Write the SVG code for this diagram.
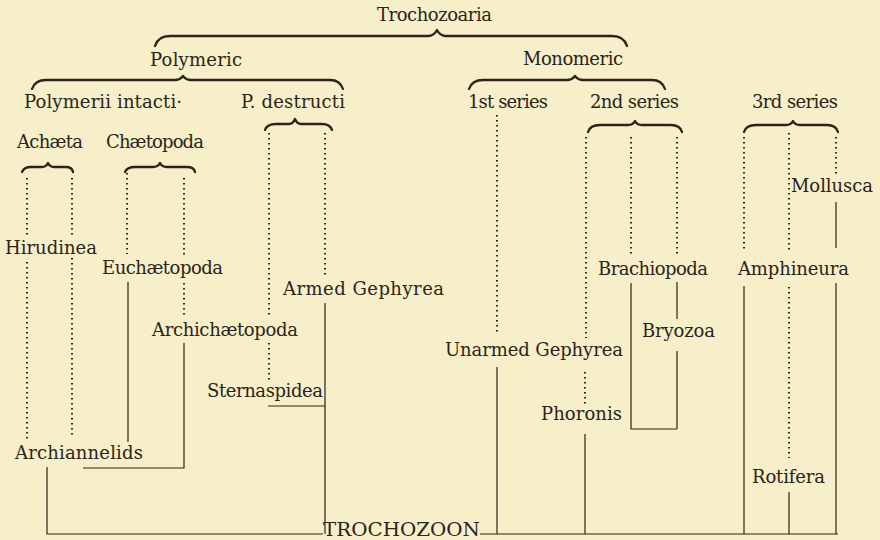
<svg xmlns="http://www.w3.org/2000/svg" width="880" height="540" viewBox="0 0 880 540">
<style>
text{font-family:"DejaVu Serif","Liberation Serif",serif;font-size:18px;fill:#2b2418}
.br{fill:none;stroke:#2b2418;stroke-width:2.3;stroke-linecap:round;stroke-linejoin:round}
.ln{fill:none;stroke:#2b2418;stroke-width:1.2}
.dt{fill:none;stroke:#2f2819;stroke-width:2;stroke-dasharray:1.6 3.4;stroke-linecap:butt}
</style>
<rect x="0" y="0" width="880" height="540" fill="#f7efc9"/>
<g id="trochozoaria">
<text x="377" y="21" textLength="115">Trochozoaria</text>
<path class="br" d="M155,46 Q158,36 170,36 L428,36 Q434,36 437,30 Q440,36 446,36 L612,36 Q624,36 627,46"/>
</g>
<g id="polymeric">
<text x="150" y="66" textLength="92">Polymeric</text>
<path class="br" d="M32,89 Q35,80 46,80 L175,80 Q180,80 183,76 Q186,80 191,80 L330,80 Q340,80 343,89"/>
</g>
<g id="monomeric">
<text x="523" y="65" textLength="100">Monomeric</text>
<path class="br" d="M469,89 Q472,80 483,80 L567,80 Q572,80 575,76 Q578,80 583,80 L652,80 Q662,80 665,89"/>
</g>
<g id="polymerii-intacti"><text x="24" y="108" textLength="158">Polymerii intacti·</text></g>
<g id="p-destructi">
<text x="241" y="108" textLength="104">P. destructi</text>
<path class="br" d="M265,130 Q267,124 276,124 L289,124 Q293,124 295,119 Q297,124 301,124 L322,124 Q330,124 332,130"/>
</g>
<g id="first-series"><text x="468" y="108" textLength="80">1st series</text></g>
<g id="second-series">
<text x="590" y="108" textLength="89">2nd series</text>
<path class="br" d="M588,132 Q590,125 600,125 L628,125 Q633,125 635,121 Q637,125 642,125 L671,125 Q680,125 682,132"/>
</g>
<g id="third-series">
<text x="752" y="108" textLength="86">3rd series</text>
<path class="br" d="M744,132 Q746,125 756,125 L786,125 Q791,125 793,121 Q795,125 800,125 L827,125 Q836,125 838,132"/>
</g>
<g id="achaeta">
<text x="17" y="148" textLength="66">Achæta</text>
<path class="br" d="M22,172 Q24,167 31,167 L42,167 Q46,167 48,163 Q50,167 54,167 L66,167 Q72,167 73,172"/>
</g>
<g id="chaetopoda">
<text x="106" y="148" textLength="98">Chætopoda</text>
<path class="br" d="M125,172 Q127,167 135,167 L153,167 Q158,167 160,163 Q162,167 167,167 L187,167 Q194,167 195,172"/>
</g>
<g id="hirudinea"><text x="5" y="254" textLength="92">Hirudinea</text></g>
<g id="euchaetopoda"><text x="102" y="274" textLength="121">Euchætopoda</text></g>
<g id="armed-gephyrea"><text x="283" y="295" textLength="161">Armed Gephyrea</text></g>
<g id="archichaetopoda"><text x="152" y="336" textLength="146">Archichætopoda</text></g>
<g id="sternaspidea"><text x="207" y="397" textLength="116">Sternaspidea</text></g>
<g id="archiannelids"><text x="15" y="459" textLength="128">Archiannelids</text></g>
<g id="trochozoon"><text x="323" y="536" textLength="157" lengthAdjust="spacingAndGlyphs">TROCHOZOON</text></g>
<g id="mollusca"><text x="791" y="192" textLength="82">Mollusca</text></g>
<g id="brachiopoda"><text x="598" y="275" textLength="110">Brachiopoda</text></g>
<g id="amphineura"><text x="738" y="275" textLength="111">Amphineura</text></g>
<g id="bryozoa"><text x="642" y="337" textLength="73">Bryozoa</text></g>
<g id="unarmed-gephyrea"><text x="445" y="356" textLength="178">Unarmed Gephyrea</text></g>
<g id="phoronis"><text x="541" y="420" textLength="81">Phoronis</text></g>
<g id="rotifera"><text x="752" y="483" textLength="73">Rotifera</text></g>
<g id="connectors">
<path class="dt" d="M27,178V236 M27,262V442 M72,178V236 M72,258V438 M127,173V254 M184,178V256 M184,283V316 M269,133V317 M269,343V381 M325,133V278 M497,115V335 M586,137V338 M585,372V404 M631,137V256 M677,137V257 M744,137V252 M789,133V252 M789,287V458 M836,137V174"/>
<path class="ln" d="M128,282V442 M184,343V468H83 M268,406H325 M325,303V534 M47,467V534H323 M480,534H838 M497,367V534 M585,434V534 M631,283V429H677 M677,282V319 M677,351V429 M744,286V534 M789,492V534 M836,202V248 M836,283V534"/>
</g>
</svg>
